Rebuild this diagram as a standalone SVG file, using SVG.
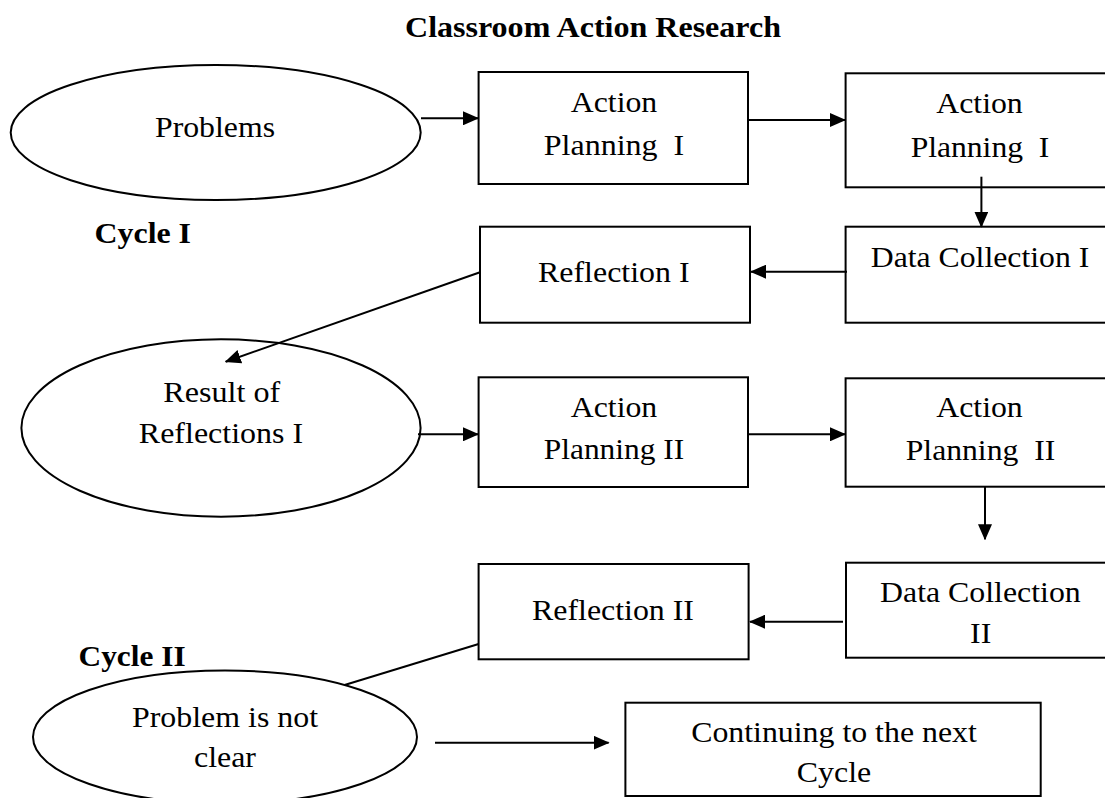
<svg xmlns="http://www.w3.org/2000/svg" width="1105" height="798" viewBox="0 0 1105 798">
<style>
.shape{fill:#fff;stroke:#000;stroke-width:2}
.t{font-size:29px;fill:#000;text-anchor:middle;white-space:pre}
.b{font-weight:bold}
.l{text-anchor:start}
.c{stroke:#000;stroke-width:2;fill:none}
</style>
<defs>
<marker id="ah" markerUnits="userSpaceOnUse" markerWidth="16" markerHeight="14" refX="15" refY="7" orient="auto">
<path d="M0,0 L16,7 L0,14 Z" fill="#000"/>
</marker>
</defs>
<rect width="1105" height="798" fill="#fff"/>
<g font-family="'Liberation Serif', 'Times New Roman', Times, serif">
<text id="title" class="t b" x="593" y="37" textLength="376" lengthAdjust="spacingAndGlyphs">Classroom Action Research</text>
<text id="cycle1" class="t b l" x="94.6" y="243" textLength="96.4" lengthAdjust="spacingAndGlyphs">Cycle I</text>
<text id="cycle2" class="t b l" x="78.6" y="666" textLength="107" lengthAdjust="spacingAndGlyphs">Cycle II</text>

<g id="problems">
<ellipse class="shape" cx="215.7" cy="132.5" rx="205" ry="67.5"/>
<text class="t" x="215" y="137" textLength="120" lengthAdjust="spacingAndGlyphs">Problems</text>
</g>
<g id="ap1a">
<rect class="shape" x="478.6" y="72" width="269.4" height="112"/>
<text class="t" x="614" y="111.7" textLength="86.5" lengthAdjust="spacingAndGlyphs">Action</text>
<text class="t" x="614" y="155" textLength="140.5" lengthAdjust="spacingAndGlyphs">Planning  I</text>
</g>
<g id="ap1b">
<rect class="shape" x="845.6" y="73.3" width="270" height="114"/>
<text class="t" x="979.5" y="112.7" textLength="86.5" lengthAdjust="spacingAndGlyphs">Action</text>
<text class="t" x="980" y="156.7" textLength="138.7" lengthAdjust="spacingAndGlyphs">Planning  I</text>
</g>
<g id="dc1">
<rect class="shape" x="845.6" y="226.7" width="270" height="96"/>
<text class="t" x="980" y="266.7" textLength="218.5" lengthAdjust="spacingAndGlyphs">Data Collection I</text>
</g>
<g id="refl1">
<rect class="shape" x="480" y="226.7" width="270" height="96"/>
<text class="t" x="613.8" y="281.7" textLength="151.5" lengthAdjust="spacingAndGlyphs">Reflection I</text>
</g>
<g id="result1">
<ellipse class="shape" cx="221" cy="428" rx="199.6" ry="88.7"/>
<text class="t" x="221.7" y="401.7" textLength="117" lengthAdjust="spacingAndGlyphs">Result of</text>
<text class="t" x="221" y="443.3" textLength="164.3" lengthAdjust="spacingAndGlyphs">Reflections I</text>
</g>
<g id="ap2a">
<rect class="shape" x="478.6" y="377.3" width="269.4" height="109.7"/>
<text class="t" x="614" y="417.3" textLength="86.5" lengthAdjust="spacingAndGlyphs">Action</text>
<text class="t" x="614" y="459.3" textLength="140.5" lengthAdjust="spacingAndGlyphs">Planning II</text>
</g>
<g id="ap2b">
<rect class="shape" x="845.6" y="378.3" width="270" height="108.4"/>
<text class="t" x="979.5" y="417.3" textLength="86.5" lengthAdjust="spacingAndGlyphs">Action</text>
<text class="t" x="980.5" y="460" textLength="149.5" lengthAdjust="spacingAndGlyphs">Planning  II</text>
</g>
<g id="dc2">
<rect class="shape" x="846" y="562.7" width="270" height="95"/>
<text class="t" x="980.4" y="601.7" textLength="200.7" lengthAdjust="spacingAndGlyphs">Data Collection</text>
<text class="t" x="980.7" y="643.3" textLength="21.2" lengthAdjust="spacingAndGlyphs">II</text>
</g>
<g id="refl2">
<rect class="shape" x="478.6" y="564" width="270" height="95.3"/>
<text class="t" x="613" y="620" textLength="162" lengthAdjust="spacingAndGlyphs">Reflection II</text>
</g>
<g id="problem2">
<ellipse class="shape" cx="225" cy="737" rx="192" ry="66.5"/>
<text class="t" x="225" y="726.7" textLength="186" lengthAdjust="spacingAndGlyphs">Problem is not</text>
<text class="t" x="225" y="767.3" textLength="62" lengthAdjust="spacingAndGlyphs">clear</text>
</g>
<g id="next">
<rect class="shape" x="625.4" y="702.7" width="415.3" height="93.3"/>
<text class="t" x="834" y="741.7" textLength="285.6" lengthAdjust="spacingAndGlyphs">Continuing to the next</text>
<text class="t" x="834" y="781.7" textLength="74.4" lengthAdjust="spacingAndGlyphs">Cycle</text>
</g>
</g>

<g id="connectors">
<line class="c" x1="421" y1="118.3" x2="478" y2="118.3" marker-end="url(#ah)"/>
<line class="c" x1="748" y1="120" x2="845" y2="120" marker-end="url(#ah)"/>
<line class="c" x1="981.4" y1="176.7" x2="981.4" y2="226.7" marker-end="url(#ah)"/>
<line class="c" x1="847" y1="271.7" x2="751" y2="271.7" marker-end="url(#ah)"/>
<line class="c" x1="480" y1="272.3" x2="225.7" y2="361.7" marker-end="url(#ah)"/>
<line class="c" x1="418" y1="434.3" x2="478" y2="434.3" marker-end="url(#ah)"/>
<line class="c" x1="748" y1="434.3" x2="845" y2="434.3" marker-end="url(#ah)"/>
<line class="c" x1="985" y1="486" x2="985" y2="539.3" marker-end="url(#ah)"/>
<line class="c" x1="843" y1="621.7" x2="750" y2="621.7" marker-end="url(#ah)"/>
<line class="c" x1="478.6" y1="644" x2="344.6" y2="685"/>
<line class="c" x1="435" y1="742.7" x2="608.6" y2="742.7" marker-end="url(#ah)"/>
</g>
</svg>
